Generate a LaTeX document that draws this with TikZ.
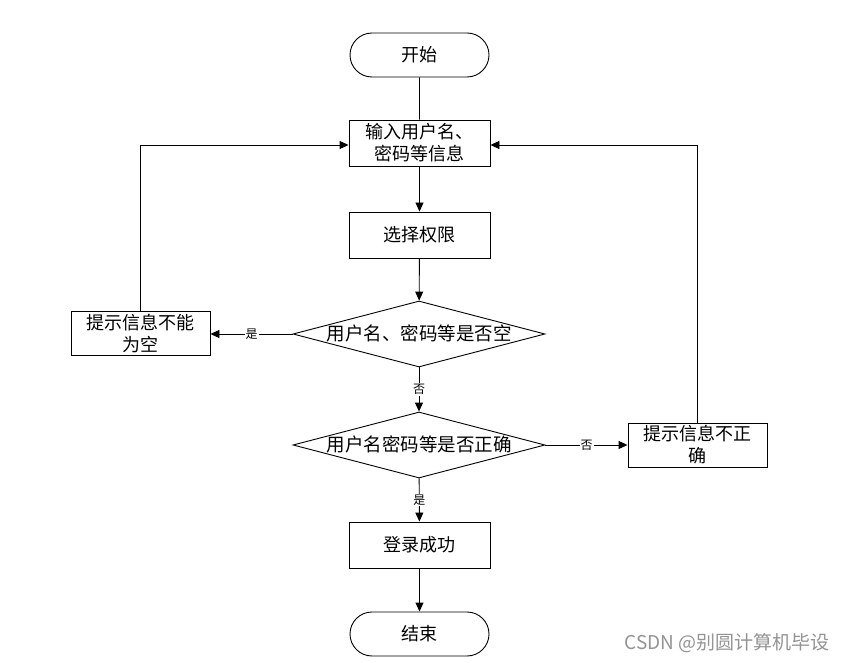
\documentclass[tikz,border=0pt]{standalone}
\usepackage{fontspec}
\setmainfont{Noto Sans CJK SC}
\usetikzlibrary{shapes.geometric,shapes.misc,arrows.meta}
\begin{document}
\begin{tikzpicture}[x=1pt,y=-1pt,
  every node/.style={inner sep=0pt},
  line/.style={draw=black,line width=0.9pt},
  arr/.style={line,-{Triangle[length=9pt,width=8pt]}},
  box/.style={draw,line width=0.9pt,rectangle,minimum width=141,minimum height=46,align=center,font=\fontsize{18}{22}\selectfont},
  term/.style={draw,line width=0.9pt,rounded rectangle,minimum width=139,minimum height=44,font=\fontsize{18}{22}\selectfont},
  dia/.style={draw,line width=0.9pt,diamond,minimum width=252,minimum height=66},
  diatext/.style={font=\fontsize{18.5}{22}\selectfont},
  lbl/.style={fill=white,inner sep=1pt,font=\fontsize{12}{14}\selectfont}]
\useasboundingbox[fill=white] (0,0) rectangle (844,663);
\node[term] (start) at (419.5,55) {开始};
\node[box] (input) at (419.5,143) {输入用户名、\\密码等信息};
\node[box] (select) at (419.5,235) {选择权限};
\node[dia] (d1) at (419,334) {};
\node[diatext] (d1t) at (419,333) {用户名、密码等是否空};
\node[box,minimum width=139,minimum height=44] (warn1) at (140.5,333) {提示信息不能\\为空};
\node[dia] (d2) at (419,445) {};
\node[diatext] (d2t) at (419,444) {用户名密码等是否正确};
\node[box,minimum width=139,minimum height=44] (warn2) at (697.5,445) {提示信息不正\\确};
\node[box] (ok) at (419.5,545) {登录成功};
\node[term] (end) at (419.5,634) {结束};
\node[font=\fontsize{19}{22}\selectfont,text=black!42,anchor=east] (wm) at (830,643) {CSDN @别圆计算机毕设};

\draw[line] (start) -- (input);
\draw[arr] (input) -- (select);
\draw[arr] (select) -- (d1);
\draw[arr] (d1.west) -- node[lbl] {是} (d1.west -| warn1.east);
\draw[arr] (d1) -- node[lbl] {否} (d2);
\draw[arr] (d2.east) -- node[lbl] {否} (d2.east -| warn2.west);
\draw[arr] (d2) -- node[lbl] {是} (ok);
\draw[arr] (ok) -- (end);
\draw[arr] (warn1.north) |- ([yshift=-2pt]input.west);
\draw[arr] (warn2.north) |- ([yshift=-2pt]input.east);
\end{tikzpicture}
\end{document}
